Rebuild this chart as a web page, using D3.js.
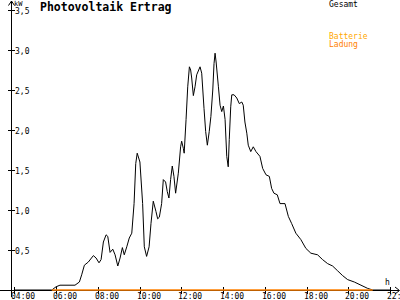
<!DOCTYPE html>
<html><head><meta charset="utf-8">
<script src="https://cdn.jsdelivr.net/npm/d3@7"></script>
<style>
html,body{margin:0;padding:0;background:#fff;}
svg{display:block;}
text{font-family:"DejaVu Sans Mono",monospace;}
</style></head>
<body><svg id="c" width="400" height="300"></svg>
<script>
// ---- data ----
const hours = [4.0,5.8,6.0,6.19,6.91,7.12,7.23,7.36,7.55,7.79,7.92,8.06,8.16,8.27,8.40,8.48,8.59,8.72,8.83,8.96,9.07,9.18,9.27,9.39,9.51,9.63,9.74,9.82,9.89,10.02,10.15,10.23,10.34,10.46,10.55,10.66,10.79,10.87,10.95,11.06,11.14,11.25,11.33,11.41,11.49,11.57,11.65,11.73,11.86,11.97,12.02,12.10,12.14,12.23,12.31,12.39,12.45,12.50,12.58,12.66,12.74,12.90,12.98,13.09,13.17,13.25,13.34,13.42,13.51,13.57,13.62,13.67,13.78,13.86,13.94,14.02,14.10,14.18,14.25,14.30,14.37,14.42,14.53,14.66,14.78,14.90,14.97,15.05,15.14,15.21,15.33,15.45,15.58,15.77,15.90,16.06,16.22,16.33,16.44,16.60,16.73,16.97,17.13,17.29,17.49,17.73,17.97,18.21,18.53,18.77,19.01,19.25,19.49,19.73,19.97,20.29,20.61,20.93,21.17,22.0];
const gesamt = [0,0,0.04,0.06,0.06,0.10,0.19,0.31,0.35,0.43,0.40,0.34,0.38,0.60,0.69,0.67,0.47,0.51,0.44,0.30,0.40,0.53,0.44,0.54,0.65,0.71,1.08,1.58,1.71,1.60,1.08,0.54,0.42,0.54,0.83,1.11,0.98,0.89,0.91,1.08,1.38,1.35,1.23,1.15,1.38,1.55,1.42,1.21,1.46,1.79,1.86,1.77,1.71,2.13,2.54,2.79,2.75,2.65,2.43,2.54,2.69,2.79,2.71,2.27,1.98,1.81,1.98,2.17,2.50,2.83,2.96,2.85,2.54,2.31,2.23,2.30,2.13,1.67,1.54,1.88,2.29,2.44,2.44,2.40,2.33,2.35,2.31,2.10,1.96,1.81,1.73,1.79,1.73,1.67,1.52,1.44,1.42,1.27,1.21,1.19,1.08,1.08,0.92,0.83,0.71,0.63,0.52,0.46,0.44,0.38,0.33,0.30,0.24,0.18,0.13,0.10,0.06,0.02,0,0];
const ladungHours = [5.8, 21.17];
const ladung = [0, 0];
const xTicks = [4,6,8,10,12,14,16,18,20,22];
const xTickLabels = ["04:00","06:00","08:00","10:00","12:00","14:00","16:00","18:00","20:00","22:00"];
const yTicks = [0.5,1.0,1.5,2.0,2.5,3.0,3.5];
const yTickLabels = ["0,5","1,0","1,5","2,0","2,5","3,0","3,5"];
const title = "Photovoltaik Ertrag";
const legend = [{name:"Gesamt",color:"#000000"},{name:"Batterie",color:"#ffa800"},{name:"Ladung",color:"#ff8000"}];

// ---- chart ----
const svg = d3.select("#c");
svg.append("rect").attr("width",400).attr("height",300).attr("fill","#fff");
const x = d3.scaleLinear().domain([4,22]).range([14.25,390]);
const y = d3.scaleLinear().domain([0,3.5]).range([290,10]);
const axX = 11, axY = 290;

// axes lines
svg.append("line").attr("x1",0).attr("x2",399).attr("y1",axY+0.5).attr("y2",axY+0.5).attr("stroke","#000");
svg.append("line").attr("x1",axX+0.5).attr("x2",axX+0.5).attr("y1",1).attr("y2",297).attr("stroke","#000");
// arrows
svg.append("path").attr("d",`M${axX-2.5},5.5L${axX+0.5},1L${axX+3.5},5.5`).attr("fill","none").attr("stroke","#000");
svg.append("path").attr("d",`M395,287L399.5,${axY+0.5}L395,294`).attr("fill","none").attr("stroke","#000");

// y ticks
const yg = svg.append("g");
yTicks.forEach((t,i)=>{
  const yy = Math.round(y(t))+0.5;
  yg.append("line").attr("x1",axX-3).attr("x2",axX+4).attr("y1",yy).attr("y2",yy).attr("stroke","#000");
  yg.append("text").attr("x",15).attr("y",yy+3).attr("font-size",8).attr("fill","#000").text(yTickLabels[i]);
});
svg.append("text").attr("x",14).attr("y",6).attr("font-size",7).attr("fill","#000").text("kW");

// x ticks
const xg = svg.append("g");
xTicks.forEach((t,i)=>{
  const xx = Math.round(x(t))+0.5;
  xg.append("line").attr("x1",xx).attr("x2",xx).attr("y1",axY-3).attr("y2",axY+4).attr("stroke","#000");
  xg.append("text").attr("x",xx-3.5).attr("y",299).attr("font-size",8).attr("fill","#000").text(xTickLabels[i]);
});
svg.append("text").attr("x",385).attr("y",285).attr("font-size",8).attr("fill","#000").text("h");

// series
const line = d3.line().x(d=>x(d[0])).y(d=>y(d[1]));
svg.append("path").datum(hours.map((h,i)=>[h,gesamt[i]]))
  .attr("d",line).attr("fill","none").attr("stroke","#000").attr("stroke-width",1);
svg.append("path").datum(ladungHours.map((h,i)=>[h,ladung[i]]))
  .attr("d",line).attr("fill","none").attr("stroke","#ff8000").attr("stroke-width",1.5);

// title
svg.append("text").attr("x",40).attr("y",11).attr("font-size",11.5).attr("font-weight","bold").attr("fill","#000").text(title);

// legend
const ly = [7, 39, 47];
legend.forEach((l,i)=>{
  svg.append("text").attr("x",329).attr("y",ly[i]).attr("font-size",8).attr("fill",l.color).text(l.name);
});
</script></body></html>
